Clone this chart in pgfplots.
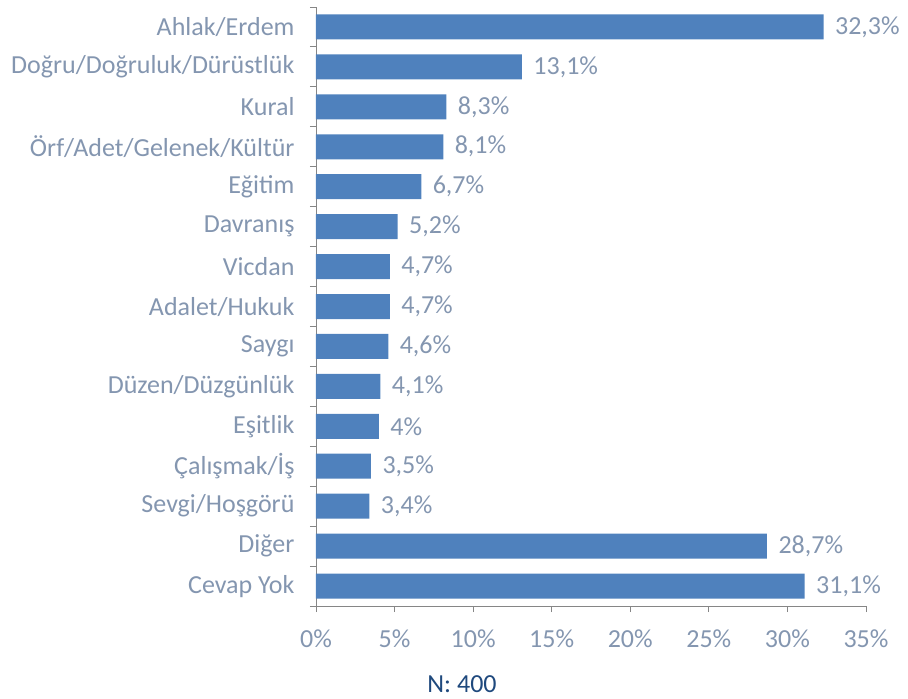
\documentclass[border=0pt]{standalone}
\usepackage{fontspec}
\setmainfont{Carlito}
\usepackage{pgfplots}
\pgfplotsset{compat=1.18}
\definecolor{barblue}{HTML}{4F81BD}
\definecolor{txtgray}{HTML}{8496B0}
\definecolor{axgray}{HTML}{868686}
\definecolor{nblue}{HTML}{1F497D}
\begin{document}
\begin{tikzpicture}
\useasboundingbox (-316pt,-93pt) rectangle (592pt,606pt);
\begin{axis}[
  anchor=south west, at={(0,0)},
  scale only axis, width=550pt, height=599pt,
  xbar, bar width=25pt,
  xmin=0, xmax=35,
  ymin=-0.5, ymax=14.5, y dir=reverse,
  axis x line*=bottom, axis y line*=left,
  axis line style={draw=axgray, line width=0.9pt},
  tick style={draw=axgray, line width=0.9pt},
  tick align=outside, major tick length=6pt,
  xtick={0,5,...,35},
  xticklabel={\pgfmathprintnumber{\tick}\%},
  ytick={-0.5,0.5,...,14.5},
  yticklabels={Ahlak/Erdem,Doğru/Doğruluk/Dürüstlük,Kural,Örf/Adet/Gelenek/Kültür,Eğitim,Davranış,Vicdan,Adalet/Hukuk,Saygı,Düzen/Düzgünlük,Eşitlik,Çalışmak/İş,Sevgi/Hoşgörü,Diğer,Cevap Yok,{}},
  yticklabel style={yshift=-20pt, anchor=east, xshift=-12pt},
  xticklabel style={yshift=-14pt},
  /pgf/number format/assume math mode=true,
  ticklabel style={font=\fontsize{26}{30}\selectfont, text=txtgray},
  nodes near coords={\pgfmathprintnumber[use comma,fixed,precision=1]{\pgfplotspointmeta}\%},
  point meta=x,
  nodes near coords style={font=\fontsize{26}{30}\selectfont, text=txtgray, xshift=8pt},
  clip=false,
]
\addplot[fill=barblue, draw=none] coordinates {
(32.3,0) (13.1,1) (8.3,2) (8.1,3) (6.7,4) (5.2,5) (4.7,6) (4.7,7) (4.6,8) (4.1,9) (4.0,10) (3.5,11) (3.4,12) (28.7,13) (31.1,14)
};
\node[font=\fontsize{26}{30}\selectfont, text=nblue] at (axis description cs:0.2655,-0.130) {N: 400};
\end{axis}
\end{tikzpicture}
\end{document}
